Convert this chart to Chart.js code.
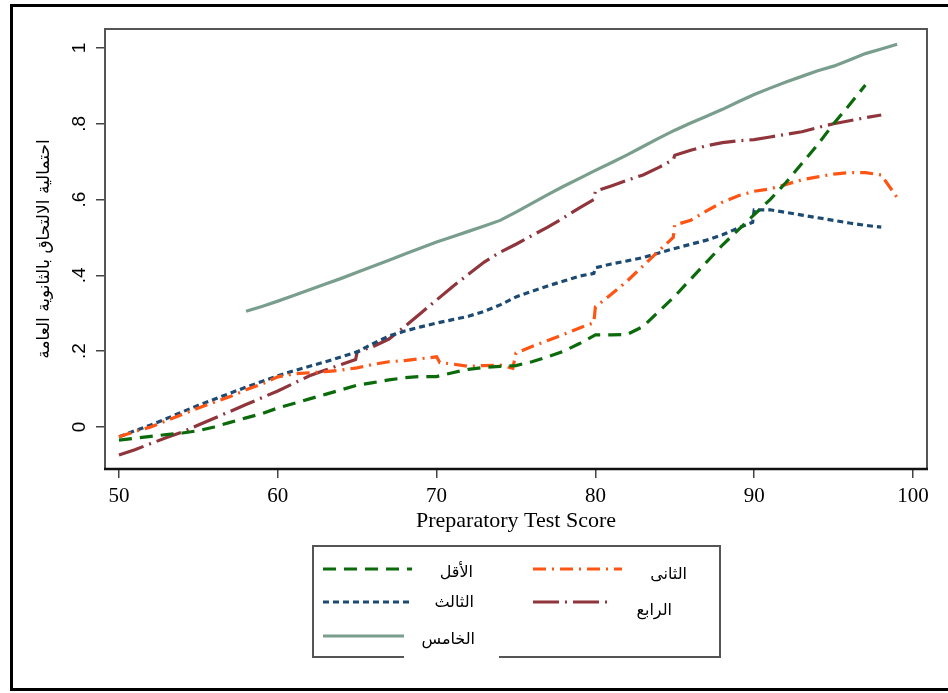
<!DOCTYPE html>
<html>
<head>
<meta charset="utf-8">
<script src="https://cdn.jsdelivr.net/npm/chart.js@4.4.1/dist/chart.umd.min.js"></script>
<style>
html, body { margin: 0; padding: 0; background: #fff; }
#wrap { position: relative; width: 948px; height: 693px; overflow: hidden; }
#frame { position: absolute; left: 10px; top: 4px; width: 1000px; height: 681px; border: 3px solid #000; }
canvas { position: absolute; left: 0; top: 0; }
</style>
</head>
<body>
<div id="wrap">
  <div id="frame"></div>
  <canvas id="chart" width="948" height="693"></canvas>
</div>
<script>
// tick labels
const xTicks = [50, 60, 70, 80, 90, 100];
const yTicks = [0, 0.2, 0.4, 0.6, 0.8, 1];
const yTickLabels = ['0', '.2', '.4', '.6', '.8', '1'];

// series names
const seriesNames = ['الأقل', 'الثانى', 'الثالث', 'الرابع', 'الخامس'];

// الأقل
const lowX = [50,51,52,53,54,55,56,57,58,59,60,61,62,63,64,65,66,67,68,69,70,71,72,73,74,75,76,77,78,79,80,81,82,83,84,85,86,87,88,89,90,91,92,93,94,95,96,97];
const lowY = [-0.035,-0.03,-0.025,-0.02,-0.016,-0.01,0.0,0.012,0.024,0.035,0.05,0.062,0.074,0.086,0.098,0.11,0.117,0.124,0.13,0.133,0.133,0.143,0.152,0.157,0.16,0.162,0.172,0.185,0.2,0.22,0.243,0.243,0.244,0.265,0.305,0.345,0.39,0.435,0.48,0.52,0.56,0.6,0.645,0.695,0.745,0.8,0.85,0.902];

// الثانى
const secondX = [50,51,52,53,54,55,56,57,58,59,60,61,62,63,64,65,66,67,68,69,70,70.2,71,72,73,74,74.8,75,76,77,78,79,79.9,80,81,82,83,84,84.9,85,86,87,88,89,90,91,92,93,94,95,96,97,98,99];
const secondY = [-0.026,-0.012,0.0,0.017,0.033,0.05,0.065,0.08,0.098,0.113,0.132,0.14,0.143,0.146,0.15,0.156,0.165,0.172,0.175,0.18,0.185,0.17,0.166,0.16,0.162,0.163,0.155,0.195,0.212,0.228,0.244,0.261,0.275,0.317,0.35,0.385,0.425,0.465,0.5,0.533,0.545,0.57,0.593,0.61,0.622,0.628,0.64,0.652,0.66,0.667,0.671,0.671,0.665,0.605];

// الثالث
const thirdX = [50,51,52,53,54,55,56,57,58,59,60,61,62,63,64,65,66,67,68,69,70,71,72,73,74,75,76,77,78,79,79.9,80,81,82,83,84,85,86,87,88,89,89.9,90,91,92,93,94,95,96,97,98];
const thirdY = [-0.026,-0.01,0.005,0.022,0.04,0.057,0.073,0.089,0.105,0.12,0.135,0.148,0.16,0.172,0.185,0.198,0.22,0.24,0.253,0.264,0.274,0.283,0.292,0.305,0.322,0.343,0.358,0.372,0.385,0.398,0.405,0.42,0.43,0.438,0.447,0.459,0.471,0.482,0.493,0.507,0.525,0.54,0.573,0.573,0.566,0.559,0.552,0.545,0.538,0.532,0.527];

// الرابع
const fourthX = [50,51,52,53,54,55,56,57,58,59,60,61,62,63,64,64.9,65,66,67,68,69,70,71,72,73,74,75,76,77,78,79,79.9,80,81,82,83,84,84.9,85,86,87,88,89,90,91,92,93,94,95,96,97,98];
const fourthY = [-0.074,-0.06,-0.044,-0.028,-0.013,0.005,0.023,0.041,0.059,0.077,0.095,0.115,0.135,0.15,0.165,0.178,0.198,0.212,0.232,0.265,0.3,0.335,0.37,0.403,0.435,0.461,0.482,0.505,0.527,0.552,0.578,0.6,0.622,0.636,0.651,0.665,0.685,0.705,0.717,0.73,0.742,0.75,0.755,0.758,0.765,0.772,0.779,0.79,0.8,0.808,0.816,0.823];

// الخامس
const fifthX = [58,59,60,61,62,63,64,65,66,67,68,69,70,71,72,73,74,75,76,77,78,79,80,81,82,83,84,85,86,87,88,89,90,91,92,93,94,95,96,97,98,99];
const fifthY = [0.305,0.318,0.332,0.347,0.362,0.377,0.392,0.408,0.424,0.44,0.456,0.472,0.488,0.502,0.516,0.53,0.545,0.567,0.59,0.613,0.635,0.656,0.677,0.697,0.718,0.74,0.762,0.783,0.802,0.82,0.838,0.858,0.877,0.894,0.91,0.925,0.94,0.952,0.968,0.985,0.997,1.01];

const toPoints = (xs, ys) => xs.map((x, i) => ({ x: x, y: ys[i] }));

const colors = ['#0b6b0b', '#ff5514', '#1c4a73', '#90353b', '#7a9e8e'];
const dashes = [[13, 8], [13, 6, 2, 6], [6, 4], [26, 6, 2, 6], []];

const seriesData = [
    toPoints(lowX, lowY),
    toPoints(secondX, secondY),
    toPoints(thirdX, thirdY),
    toPoints(fourthX, fourthY),
    toPoints(fifthX, fifthY)
];

const datasets = seriesData.map((d, i) => ({
    label: seriesNames[i],
    data: d,
    borderColor: colors[i],
    borderWidth: 3.2,
    borderDash: dashes[i],
    pointRadius: 0,
    fill: false,
    tension: 0
}));

// plot box around chart area
const plotBox = {
    id: 'plotBox',
    afterDatasetsDraw(chart) {
        const { ctx, chartArea: a } = chart;
        ctx.save();
        ctx.strokeStyle = '#555';
        ctx.lineWidth = 2;
        ctx.beginPath();
        ctx.moveTo(a.left, a.bottom);
        ctx.lineTo(a.left, a.top);
        ctx.lineTo(a.right, a.top);
        ctx.lineTo(a.right, a.bottom);
        ctx.stroke();
        ctx.strokeStyle = '#111';
        ctx.lineWidth = 2.5;
        ctx.beginPath();
        ctx.moveTo(a.left - 1, a.bottom);
        ctx.lineTo(a.right + 1, a.bottom);
        ctx.stroke();
        ctx.restore();
    }
};

// legend at the bottom
const legendSpots = [
    { x1: 323, x2: 412, y: 569, tx: 473, ty: 573 },
    { x1: 533, x2: 622, y: 569, tx: 687, ty: 575 },
    { x1: 323, x2: 412, y: 602, tx: 474, ty: 603 },
    { x1: 533, x2: 610, y: 602, tx: 672, ty: 611 },
    { x1: 323, x2: 404, y: 636, tx: 475, ty: 640 }
];

const legendBox = {
    id: 'legendBox',
    afterDraw(chart) {
        const ctx = chart.ctx;
        ctx.save();
        ctx.strokeStyle = '#555';
        ctx.lineWidth = 2;
        ctx.strokeRect(313, 546, 407, 111);
        ctx.fillStyle = '#fff';
        ctx.fillRect(404, 650, 95, 12);
        chart.data.datasets.forEach((ds, i) => {
            const s = legendSpots[i];
            ctx.strokeStyle = ds.borderColor;
            ctx.lineWidth = 3;
            ctx.setLineDash(ds.borderDash);
            ctx.beginPath();
            ctx.moveTo(s.x1, s.y);
            ctx.lineTo(s.x2, s.y);
            ctx.stroke();
            ctx.setLineDash([]);
            ctx.fillStyle = '#000';
            ctx.font = '16px "DejaVu Sans"';
            ctx.textAlign = 'right';
            ctx.textBaseline = 'middle';
            ctx.fillText(ds.label, s.tx, s.ty);
        });
        ctx.restore();
    }
};

new Chart(document.getElementById('chart'), {
    type: 'line',
    data: { datasets: datasets },
    options: {
        responsive: false,
        animation: false,
        layout: { padding: { top: 29, right: 21, bottom: 154, left: 0 } },
        plugins: {
            legend: { display: false },
            tooltip: { enabled: false }
        },
        scales: {
            x: {
                type: 'linear',
                min: 49.12,
                max: 100.88,
                afterBuildTicks: s => { s.ticks = xTicks.map(v => ({ value: v })); },
                afterFit: s => { s.height = 70; },
                ticks: {
                    color: '#000',
                    padding: 6,
                    maxRotation: 0,
                    font: { family: '"Liberation Serif"', size: 21 },
                    callback: v => String(v)
                },
                grid: { drawOnChartArea: false, drawTicks: true, tickLength: 9, color: '#444', lineWidth: 1.5 },
                border: { display: false },
                title: {
                    display: true,
                    text: 'Preparatory Test Score',
                    color: '#000',
                    font: { family: '"Liberation Serif"', size: 22 },
                    padding: { top: 0, bottom: 5 }
                }
            },
            y: {
                type: 'linear',
                min: -0.111,
                max: 1.05,
                afterBuildTicks: s => { s.ticks = yTicks.map(v => ({ value: v })); },
                afterFit: s => { s.width = 105; },
                ticks: {
                    color: '#000',
                    padding: 8,
                    minRotation: 90,
                    maxRotation: 90,
                    crossAlign: 'center',
                    font: { family: '"Liberation Sans"', size: 19 },
                    callback: (v) => {
                        const i = yTicks.indexOf(v);
                        return i >= 0 ? yTickLabels[i] : '';
                    }
                },
                grid: { drawOnChartArea: false, drawTicks: true, tickLength: 9, color: '#444', lineWidth: 1.5 },
                border: { display: false },
                title: {
                    display: true,
                    text: 'احتمالية الالتحاق بالثانوية العامة',
                    color: '#000',
                    font: { family: '"DejaVu Sans"', size: 17 },
                    padding: { top: 34, bottom: 0 }
                }
            }
        }
    },
    plugins: [plotBox, legendBox]
});
</script>
</body>
</html>
